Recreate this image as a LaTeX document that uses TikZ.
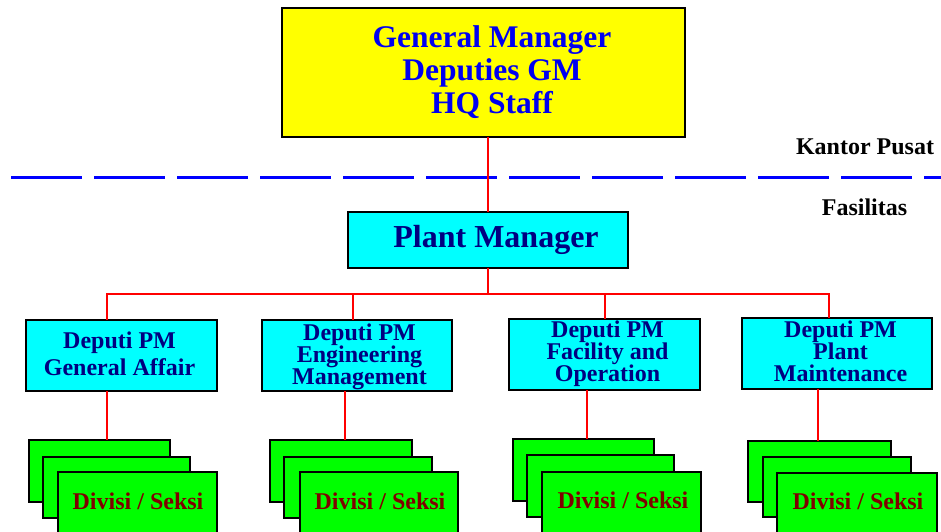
\documentclass[tikz,border=0pt]{standalone}
\usepackage{fontspec}
\setmainfont{Liberation Serif}
\usetikzlibrary{fit}

\definecolor{boxyellow}{RGB}{255,255,0}
\definecolor{boxcyan}{RGB}{0,255,255}
\definecolor{boxgreen}{RGB}{0,255,0}
\definecolor{linkred}{RGB}{255,0,0}
\definecolor{dashblue}{RGB}{0,0,255}
\definecolor{gmblue}{RGB}{0,0,240}
\definecolor{navytext}{RGB}{0,0,128}
\definecolor{maroontext}{RGB}{128,0,0}

\tikzset{
  orgbox/.style={draw=black, line width=2.4pt, inner sep=0pt, outer sep=0pt},
  gmbox/.style={orgbox, fill=boxyellow},
  pmbox/.style={orgbox, fill=boxcyan},
  depbox/.style={orgbox, fill=boxcyan},
  divbox/.style={orgbox, fill=boxgreen},
  link/.style={draw=linkred, line width=2.8pt},
  divider/.style={draw=dashblue, line width=3pt, dash pattern=on 71pt off 12pt},
  gmtext/.style={inner sep=0pt, align=center, text=gmblue,
    font={\fontsize{31.5}{33}\selectfont\bfseries\lineskiplimit=-100pt}},
  pmtext/.style={inner sep=0pt, anchor=base, text=navytext,
    font=\fontsize{32}{34}\selectfont\bfseries},
  deptext/.style={inner sep=0pt, align=center, text=navytext,
    font={\fontsize{24}{#1}\selectfont\bfseries\lineskiplimit=-100pt}},
  divtext/.style={inner sep=0pt, anchor=base, text=maroontext,
    font=\fontsize{24}{26}\selectfont\bfseries},
  zonetext/.style={inner sep=0pt, anchor=base, text=black,
    font=\fontsize{24}{26}\selectfont\bfseries},
}

\begin{document}
\begin{tikzpicture}[x=1pt, y=-1pt]
  \useasboundingbox (0,0) rectangle (941,531);
  \clip (0,0) rectangle (941,531);

  % headquarters / facility divider
  \coordinate (divL) at (11,177);
  \coordinate (divR) at (960,177);
  \draw[divider] (divL) -- (divR);
  \node[zonetext] (kantor) at (865,154) {Kantor Pusat};
  \node[zonetext] (fasil) at (864.5,215) {Fasilitas};

  % top level
  \node[gmbox, fit={(282,8) (685,137)}] (gm) {};
  \node[gmtext] (gmt) at (492,72) {General Manager\\Deputies GM\\HQ Staff};

  \node[pmbox, fit={(348,212) (628,268)}] (pm) {};
  \node[pmtext] (pmt) at (496,247) {Plant Manager};

  % deputies
  \node[depbox, fit={(26,320) (217,391)}] (d1) {};
  \node[depbox, fit={(262,320) (452,391)}] (d2) {};
  \node[depbox, fit={(509,319) (700,390)}] (d3) {};
  \node[depbox, fit={(742,318) (932,389)}] (d4) {};
  \node[deptext=27] (d1t) at (119.5,354.2) {Deputi PM\\General Affair};
  \node[deptext=22] (d2t) at (359.5,357) {Deputi PM\\Engineering\\Management};
  \node[deptext=22] (d3t) at (607.5,354.2) {Deputi PM\\Facility and\\Operation};
  \node[deptext=22] (d4t) at (840.5,351.7) {Deputi PM\\Plant\\Maintenance};

  % stacked division boxes (back, middle, front)
  \node[divbox, fit={(29,440) (170,502)}] (s1a) {};
  \node[divbox, fit={(43,457) (190,518)}] (s1b) {};
  \node[divbox, fit={(58,472) (217,560)}] (s1c) {};
  \node[divtext] (s1t) at (138,509) {Divisi / Seksi};

  \node[divbox, fit={(270,440) (412,502)}] (s2a) {};
  \node[divbox, fit={(284,457) (432,518)}] (s2b) {};
  \node[divbox, fit={(300,472) (458,560)}] (s2c) {};
  \node[divtext] (s2t) at (380,509) {Divisi / Seksi};

  \node[divbox, fit={(513,439) (654,501)}] (s3a) {};
  \node[divbox, fit={(527,455) (674,517)}] (s3b) {};
  \node[divbox, fit={(542,472) (701,560)}] (s3c) {};
  \node[divtext] (s3t) at (623,508) {Divisi / Seksi};

  \node[divbox, fit={(748,441) (891,502)}] (s4a) {};
  \node[divbox, fit={(763,457) (911,517)}] (s4b) {};
  \node[divbox, fit={(777,473) (937,560)}] (s4c) {};
  \node[divtext] (s4t) at (858,509) {Divisi / Seksi};

  % connectors
  \coordinate (bus) at (488,294);
  \coordinate (t1) at (107,294);
  \coordinate (t2) at (353,294);
  \coordinate (t3) at (605,294);
  \coordinate (t4) at (829,294);
  \draw[link] (pm.north |- gm.south) -- (pm.north);
  \draw[link] (pm.south) -- (bus);
  \draw[link] (t1 |- d1.north) -- (t1) -- (t4) -- (t4 |- d4.north);
  \draw[link] (t2) -- (t2 |- d2.north);
  \draw[link] (t3) -- (t3 |- d3.north);

  \coordinate (b1) at (107,440);
  \coordinate (b2) at (345,440);
  \coordinate (b3) at (587,439);
  \coordinate (b4) at (818,441);
  \draw[link] (b1 |- d1.south) -- (b1);
  \draw[link] (b2 |- d2.south) -- (b2);
  \draw[link] (b3 |- d3.south) -- (b3);
  \draw[link] (b4 |- d4.south) -- (b4);
\end{tikzpicture}
\end{document}
